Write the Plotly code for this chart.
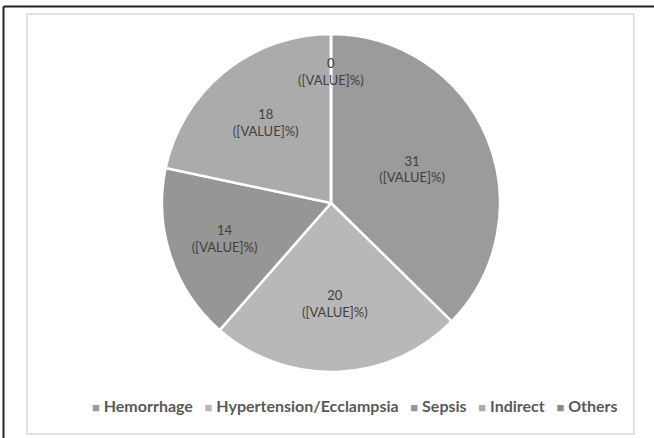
import plotly.graph_objects as go

labels = ["Hemorrhage", "Hypertension/Ecclampsia", "Sepsis", "Indirect", "Others"]
values = [31, 20, 14, 18, 0]
colors = ["#9b9b9b", "#b8b8b8", "#969696", "#ababab", "#8a8a8a"]

W, H = 654, 438
FONT = "Lato, Open Sans, sans-serif"

# pie placement (pixels from top-left of the page)
cx, cy, r = 331, 203, 169
dom_x = [(cx - r) / W, (cx + r) / W]
dom_y = [1 - (cy + r) / H, 1 - (cy - r) / H]

fig = go.Figure()

fig.add_trace(go.Pie(
    labels=labels,
    values=values,
    sort=False,
    direction="clockwise",
    rotation=0,
    marker=dict(colors=colors, line=dict(color="white", width=2.5)),
    texttemplate="%{value}<br>([VALUE]%)",
    textposition="inside",
    insidetextorientation="horizontal",
    textfont=dict(family=FONT, size=13, color="#404040"),
    hoverinfo="label+value",
    showlegend=False,
    domain=dict(x=dom_x, y=dom_y),
))

# zero-sized slices get no label from plotly; put it where the slice sits (top)
for lab, v in zip(labels, values):
    if v == 0:
        fig.add_annotation(
            xref="paper", yref="paper",
            x=cx / W, y=1 - (cy - 0.78 * r) / H,
            xanchor="center", yanchor="middle",
            text=f"{v}<br>([VALUE]%)", showarrow=False,
            font=dict(family=FONT, size=13, color="#404040"),
        )

# legend line, Excel style: small square + bold label
parts = []
for lab, c in zip(labels, colors):
    parts.append(f"<span style='color:{c};font-size:13px'>■</span>&nbsp;{lab}")
legend_text = "&nbsp;&nbsp;&nbsp;".join(parts)
fig.add_annotation(
    xref="paper", yref="paper",
    x=355 / W, y=1 - 405 / H, xanchor="center", yanchor="middle",
    text=legend_text, showarrow=False,
    font=dict(family=FONT, size=16, color="#595959", weight="bold"),
)

# outer frame (dark) and inner chart-area frame (light grey)
fig.add_shape(type="line", xref="paper", yref="paper",
              x0=3.5 / W, x1=1, y0=1 - 6.5 / H, y1=1 - 6.5 / H,
              line=dict(color="#222222", width=2))
fig.add_shape(type="line", xref="paper", yref="paper",
              x0=3.5 / W, x1=3.5 / W, y0=0, y1=1 - 6.5 / H,
              line=dict(color="#222222", width=2))
fig.add_shape(type="rect", xref="paper", yref="paper",
              x0=27 / W, x1=634 / W, y0=1 - 434 / H, y1=1 - 14 / H,
              line=dict(color="#d9d9d9", width=1.5))

fig.update_layout(
    width=W, height=H,
    margin=dict(l=0, r=0, t=0, b=0),
    paper_bgcolor="white",
    plot_bgcolor="white",
    showlegend=False,
)

fig.write_html("out.html", config={"displayModeBar": False},
               post_script="document.body.style.margin='0';")
